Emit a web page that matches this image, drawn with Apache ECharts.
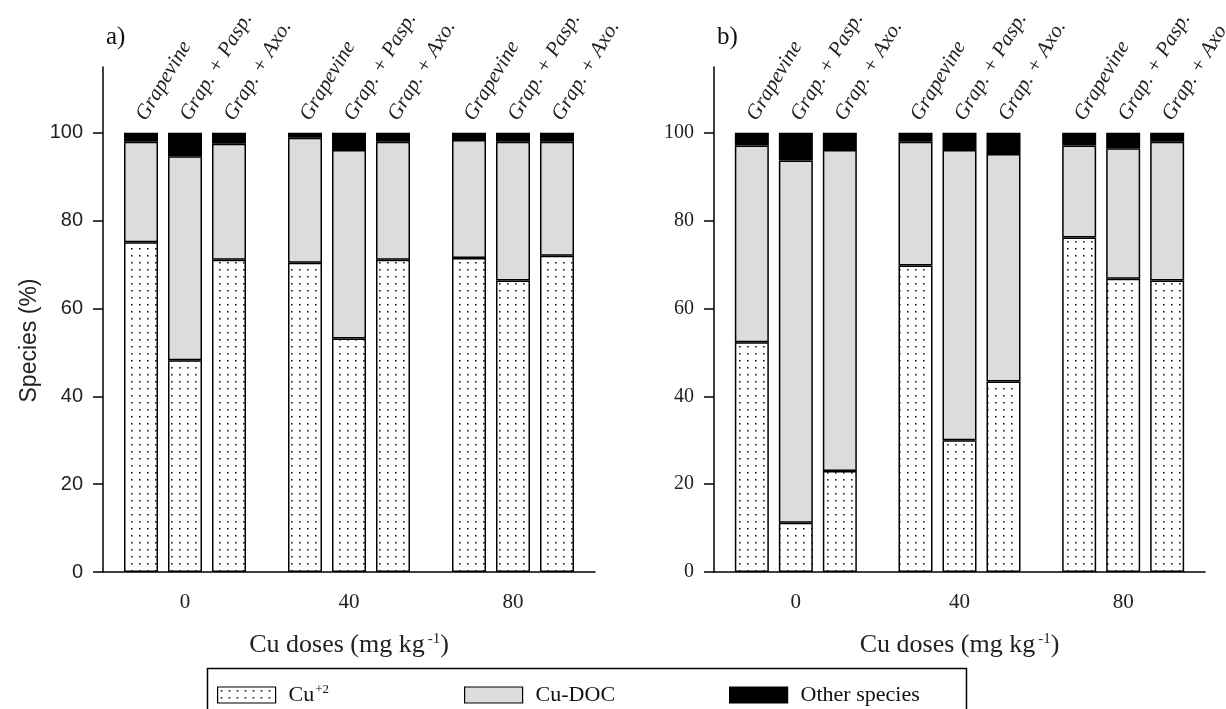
<!DOCTYPE html>
<html>
<head>
<meta charset="utf-8">
<script src="https://cdn.jsdelivr.net/npm/echarts@6/dist/echarts.min.js"></script>
<style>html,body{margin:0;padding:0;background:#fff;}#c{width:1226px;height:709px;}</style>
</head>
<body>
<div id="c"></div>
<script>
// ---- data ----
const doses = ['0', '40', '80'];
const treatments = ['Grapevine', 'Grap. + Pasp.', 'Grap. + Axo.'];
const speciesNames = ['Cu+2', 'Cu-DOC', 'Other species'];
const yTicks = [0, 20, 40, 60, 80, 100];
// order of values: dose 0 (Grapevine, Grap.+Pasp., Grap.+Axo.), dose 40 (...), dose 80 (...)
const cuA    = [75.1, 48.2, 71.1, 70.4, 53.2, 71.1, 71.5, 66.4, 72.0];
const docA   = [22.9, 46.5, 26.4, 28.5, 42.9, 26.9, 26.9, 31.6, 26.0];
const otherA = [2.0, 5.3, 2.5, 1.1, 3.9, 2.0, 1.6, 2.0, 2.0];
const cuB    = [52.3, 11.2, 23.0, 69.8, 30.0, 43.4, 76.2, 66.8, 66.4];
const docB   = [44.8, 82.5, 73.1, 28.2, 66.1, 51.8, 20.9, 29.7, 31.6];
const otherB = [2.9, 6.3, 3.9, 2.0, 3.9, 4.8, 2.9, 3.5, 2.0];

// ---- dotted pattern ----
const pc = document.createElement('canvas');
pc.width = 8; pc.height = 7;
const pctx = pc.getContext('2d');
pctx.fillStyle = '#fff'; pctx.fillRect(0, 0, 8, 7);
pctx.fillStyle = '#222'; pctx.fillRect(3, 3, 1.6, 1.6);
const dotPattern = { image: pc, repeat: 'repeat' };

const serif = 'Liberation Serif';
const sans = 'Liberation Sans';
const fills = [dotPattern, '#dcdcdc', '#000'];

function panelSeries(pi, arrays) {
  const out = [];
  for (let t = 0; t < 3; t++) {
    for (let s = 0; s < 3; s++) {
      const data = doses.map((d, di) => arrays[s][di * 3 + t]);
      const ser = {
        type: 'bar',
        name: speciesNames[s],
        xAxisIndex: pi, yAxisIndex: pi,
        stack: 'p' + pi + 't' + t,
        barWidth: 34,
        barGap: '29.4%',
        data: data,
        itemStyle: { color: fills[s], borderColor: '#000', borderWidth: 1.5 },
        emphasis: { disabled: true },
        animation: false
      };
      if (s === 2) {
        ser.label = {
          show: true, position: 'top', distance: 14,
          rotate: 59, align: 'left', verticalAlign: 'middle',
          formatter: () => treatments[t],
          fontFamily: serif, fontStyle: 'italic', fontSize: 21, color: '#222'
        };
      }
      out.push(ser);
    }
  }
  return out;
}

function xAxisFor(gi) {
  return {
    type: 'category', gridIndex: gi, data: doses,
    axisLine: { lineStyle: { color: '#000', width: 1.5 } },
    axisTick: { alignWithLabel: true, length: 8, lineStyle: { color: '#000', width: 1.5 } },
    axisLabel: { fontFamily: serif, fontSize: 21, color: '#222', margin: 20 },
    name: 'Cu doses (mg kg{sup|-1})', nameLocation: 'middle', nameGap: 60,
    nameTextStyle: { fontFamily: serif, fontSize: 26, color: '#222',
      rich: { sup: { fontFamily: serif, fontSize: 15, verticalAlign: 'top', padding: [0, 0, 12, 3], color: '#222' } } }
  };
}
function yAxisFor(gi, font, withName) {
  const ax = {
    type: 'value', gridIndex: gi, min: 0, max: 115,
    splitLine: { show: false },
    axisLine: { show: true, lineStyle: { color: '#000', width: 1.5 } },
    axisTick: { show: true, length: 10, customValues: yTicks, lineStyle: { color: '#000', width: 1.5 } },
    axisLabel: { customValues: yTicks, fontFamily: font, fontSize: 20, color: '#222', margin: 20 }
  };
  if (withName) {
    ax.name = 'Species (%)';
    ax.nameLocation = 'middle';
    ax.nameGap = 62;
    ax.nameTextStyle = { fontFamily: sans, fontSize: 23, color: '#222', padding: [0, 42, 0, 0] };
  }
  return ax;
}

function legendFor(name, left) {
  return {
    data: [name], left: left, top: 683, padding: 0,
    itemWidth: 58, itemHeight: 16, icon: 'rect',
    selectedMode: false,
    itemStyle: { borderColor: '#000', borderWidth: 1.2 },
    formatter: n => n === 'Cu+2' ? 'Cu{sup|+2}' : n,
    textStyle: { fontFamily: serif, fontSize: 22, color: '#111', padding: [0, 0, 0, 8], lineHeight: 24,
      rich: { sup: { fontFamily: serif, fontSize: 13, verticalAlign: 'top', padding: [0, 0, 10, 1], color: '#111' } } }
  };
}

const chart = echarts.init(document.getElementById('c'), null, { renderer: 'canvas' });
chart.setOption({
  backgroundColor: '#fff',
  animation: false,
  title: [
    { text: 'a)', left: 106, top: 25, padding: 0, textStyle: { fontFamily: serif, fontSize: 25, fontWeight: 'normal', color: '#111' } },
    { text: 'b)', left: 717, top: 25, padding: 0, textStyle: { fontFamily: serif, fontSize: 25, fontWeight: 'normal', color: '#111' } }
  ],
  grid: [
    { left: 103, top: 67, width: 492, height: 505 },
    { left: 714, top: 67, width: 491, height: 505 }
  ],
  xAxis: [xAxisFor(0), xAxisFor(1)],
  yAxis: [yAxisFor(0, sans, true), yAxisFor(1, serif, false)],
  legend: [legendFor('Cu+2', 217), legendFor('Cu-DOC', 464), legendFor('Other species', 729)],
  graphic: [
    { type: 'rect', left: 205, top: 666, shape: { width: 759, height: 60 },
      style: { fill: 'none', stroke: '#000', lineWidth: 1.5 }, silent: true }
  ],
  series: panelSeries(0, [cuA, docA, otherA]).concat(panelSeries(1, [cuB, docB, otherB]))
});
</script>
</body>
</html>
